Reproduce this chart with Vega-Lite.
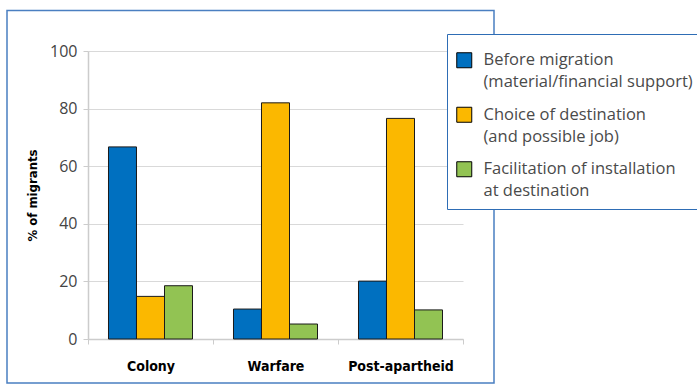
{
  "$schema": "https://vega.github.io/schema/vega-lite/v6.json",
  "width": 375,
  "height": 288,
  "autosize": "none",
  "padding": {"left": 88, "top": 51, "right": 234, "bottom": 48},
  "background": "white",
  "config": {
    "view": {"stroke": null},
    "font": "Open Sans"
  },
  "layer": [
    {
      "data": {"values": [{"frame": "frame"}]},
      "mark": {"type": "rect", "fill": null, "stroke": "#4a7fc1", "strokeWidth": 1.5, "clip": false},
      "encoding": {
        "x": {"value": -81},
        "x2": {"value": 406},
        "y": {"value": -40.5},
        "y2": {"value": 332}
      }
    },
    {
      "data": {
        "values": [
          {"period": "Colony", "type": "Before migration\n(material/financial support)", "pct": 66.7},
          {"period": "Colony", "type": "Choice of destination\n(and possible job)", "pct": 14.8},
          {"period": "Colony", "type": "Facilitation of installation\nat destination", "pct": 18.5},
          {"period": "Warfare", "type": "Before migration\n(material/financial support)", "pct": 10.4},
          {"period": "Warfare", "type": "Choice of destination\n(and possible job)", "pct": 82.0},
          {"period": "Warfare", "type": "Facilitation of installation\nat destination", "pct": 5.2},
          {"period": "Post-apartheid", "type": "Before migration\n(material/financial support)", "pct": 20.1},
          {"period": "Post-apartheid", "type": "Choice of destination\n(and possible job)", "pct": 76.6},
          {"period": "Post-apartheid", "type": "Facilitation of installation\nat destination", "pct": 10.1}
        ]
      },
      "mark": {"type": "bar", "stroke": "#1a1a1a", "strokeWidth": 1},
      "encoding": {
        "x": {
          "field": "period",
          "type": "nominal",
          "sort": ["Colony", "Warfare", "Post-apartheid"],
          "scale": {"paddingInner": 0, "paddingOuter": 0},
          "axis": {
            "title": null,
            "labelAngle": 0,
            "tickBand": "extent",
            "domainColor": "#cccccc",
            "domainWidth": 1.5,
            "tickColor": "#cccccc",
            "tickSize": 5,
            "labelFont": "Liberation Sans Narrow, DejaVu Sans Condensed, Roboto",
            "labelFontWeight": "bold",
            "labelFontSize": 14,
            "labelColor": "#000000",
            "labelPadding": 15,
            "grid": false
          }
        },
        "xOffset": {
          "field": "type",
          "type": "nominal",
          "sort": null,
          "scale": {"paddingInner": 0, "paddingOuter": 0.732}
        },
        "y": {
          "field": "pct",
          "type": "quantitative",
          "scale": {"domain": [0, 100], "nice": false},
          "axis": {
            "title": "% of migrants",
            "titleFont": "Liberation Sans Narrow, DejaVu Sans Condensed, Roboto",
            "titleFontWeight": "bold",
            "titleFontSize": 13,
            "titleColor": "#000000",
            "titlePadding": 10,
            "values": [0, 20, 40, 60, 80, 100],
            "domain": true,
            "domainColor": "#cccccc",
            "domainWidth": 1.5,
            "tickColor": "#cccccc",
            "tickSize": 5,
            "gridColor": "#d9d9d9",
            "gridWidth": 1.2,
            "labelFontSize": 16,
            "labelColor": "#444444",
            "labelPadding": 6
          }
        },
        "color": {
          "field": "type",
          "type": "nominal",
          "sort": null,
          "scale": {"range": ["#0070c0", "#fbb800", "#92c353"]},
          "legend": {
            "title": " ",
            "titleFontSize": 2,
            "titlePadding": 7,
            "orient": "none",
            "legendX": 359,
            "legendY": -17,
            "strokeColor": "#2e6db5",
            "fillColor": "white",
            "padding": 9,
            "symbolType": "square",
            "symbolSize": 225,
            "symbolStrokeColor": "#000000",
            "symbolStrokeWidth": 1,
            "symbolOpacity": 1,
            "labelFontSize": 16.5,
            "labelColor": "#4a4a4a",
            "labelLimit": 300,
            "labelOffset": 11,
            "labelExpr": "split(datum.label, '\\n')",
            "rowPadding": 13.5,
            "encode": {
              "labels": {"update": {"lineHeight": {"value": 22}}}
            }
          }
        }
      }
    }
  ]
}
